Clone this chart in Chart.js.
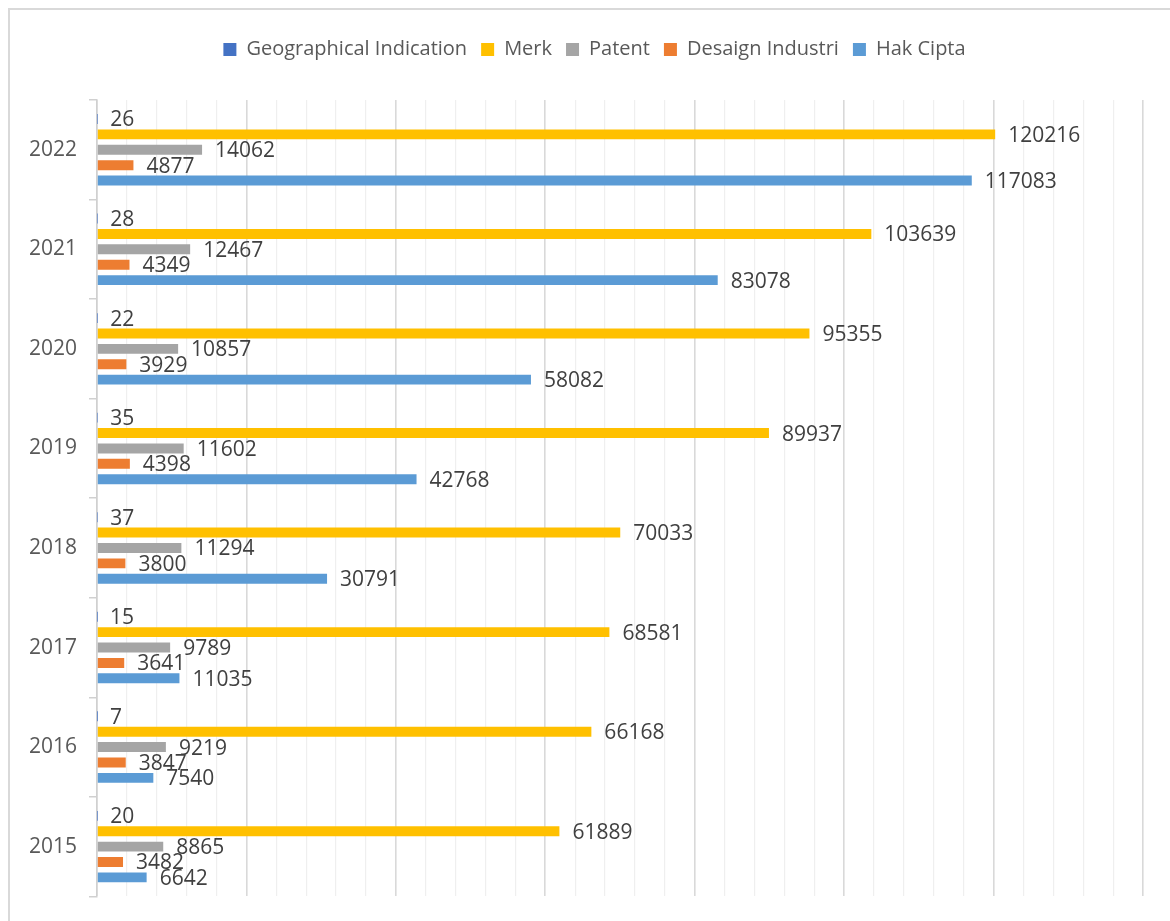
<!DOCTYPE html>
<html>
<head>
<meta charset="utf-8">
<script src="https://cdn.jsdelivr.net/npm/chart.js@4.4.1/dist/chart.umd.min.js"></script>
<style>
  html, body { margin: 0; padding: 0; background: #fff; overflow: hidden; }
  #frame { position: absolute; left: 8px; top: 8px; width: 1300px; height: 1000px; border: 2px solid #d9d9d9; box-sizing: border-box; }
  #chart { position: absolute; left: 0; top: 0; }
</style>
</head>
<body>
<div id="frame"></div>
<canvas id="chart" width="1170" height="921"></canvas>
<script>
// categories listed top to bottom
const years = ['2022', '2021', '2020', '2019', '2018', '2017', '2016', '2015'];

const geoIndication = [26, 28, 22, 35, 37, 15, 7, 20];
const merk = [120216, 103639, 95355, 89937, 70033, 68581, 66168, 61889];
const patent = [14062, 12467, 10857, 11602, 11294, 9789, 9219, 8865];
const desainIndustri = [4877, 4349, 3929, 4398, 3800, 3641, 3847, 3482];
const hakCipta = [117083, 83078, 58082, 42768, 30791, 11035, 7540, 6642];

const FONT = "'Open Sans', 'Noto Sans', sans-serif";

// draws the value next to each bar end
const valueLabels = {
  id: 'valueLabels',
  afterDatasetsDraw(chart) {
    const ctx = chart.ctx;
    ctx.save();
    ctx.font = '21px ' + FONT;
    ctx.fillStyle = '#404040';
    ctx.textAlign = 'left';
    ctx.textBaseline = 'middle';
    chart.data.datasets.forEach((ds, i) => {
      const meta = chart.getDatasetMeta(i);
      meta.data.forEach((bar, j) => {
        ctx.fillText(String(ds.data[j]), bar.x + 13, bar.y + 1.5);
      });
    });
    ctx.restore();
  }
};

// extra room under the legend, and legend centred over the frame
const legendGap = {
  id: 'legendGap',
  beforeInit(chart) {
    const fit = chart.legend.fit;
    chart.legend.fit = function () {
      fit.bind(chart.legend)();
      this.height += 30.5;
    };
  },
  afterLayout(chart) {
    chart.legend.left += 19;
    chart.legend.right += 19;
  }
};

new Chart(document.getElementById('chart'), {
  type: 'bar',
  data: {
    labels: years,
    datasets: [
      { label: 'Geographical Indication', data: geoIndication, backgroundColor: '#4472C4' },
      { label: 'Merk', data: merk, backgroundColor: '#FFC000' },
      { label: 'Patent', data: patent, backgroundColor: '#A5A5A5' },
      { label: 'Desaign Industri', data: desainIndustri, backgroundColor: '#ED7D31' },
      { label: 'Hak Cipta', data: hakCipta, backgroundColor: '#5B9BD5' }
    ]
  },
  options: {
    indexAxis: 'y',
    responsive: false,
    devicePixelRatio: 1,
    animation: false,
    categoryPercentage: 0.773,
    barPercentage: 0.645,
    layout: { padding: { left: 8, right: 27, top: 25.5, bottom: 10 } },
    scales: {
      x: {
        min: 0,
        max: 140000,
        ticks: { display: false, stepSize: 4000, autoSkip: false },
        border: { display: false },
        grid: {
          drawTicks: false,
          color: c => (c.tick && c.tick.value % 20000 === 0) ? '#d9d9d9' : '#efefef',
          lineWidth: c => (c.tick && c.tick.value % 20000 === 0) ? 1.6 : 1.2
        }
      },
      y: {
        afterFit(scale) { scale.width = 89; },
        border: { display: true, color: '#d0d0d0', width: 1.5 },
        grid: { drawOnChartArea: false, drawTicks: true, tickLength: 8, color: '#d0d0d0', lineWidth: 1.5 },
        ticks: { font: { size: 21, family: FONT }, color: '#595959', padding: 12 }
      }
    },
    plugins: {
      legend: {
        position: 'top',
        labels: { boxWidth: 13, boxHeight: 13, padding: 14, color: '#595959', font: { size: 20, family: FONT } }
      },
      tooltip: { enabled: false }
    }
  },
  plugins: [valueLabels, legendGap]
});
</script>
</body>
</html>
